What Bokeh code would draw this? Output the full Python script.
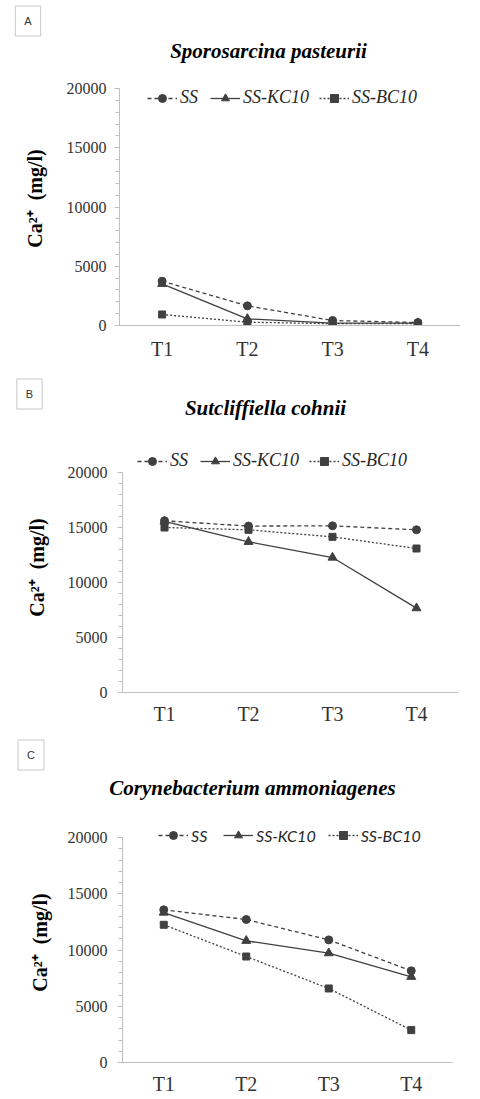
from bokeh.plotting import figure
from bokeh.models import Range1d, FixedTicker, Label, Legend, LegendItem
from bokeh.layouts import column
from bokeh.embed import file_html
from bokeh.resources import INLINE

# ---- data ----
times = ["T1", "T2", "T3", "T4"]
series_names = ["SS", "SS-KC10", "SS-BC10"]

a_ss = [3740, 1660, 420, 250]
a_kc = [3520, 560, 200, 200]
a_bc = [930, 280, 150, 150]

b_ss = [15610, 15130, 15150, 14790]
b_kc = [15550, 13700, 12270, 7670]
b_bc = [15000, 14790, 14150, 13090]

c_ss = [13570, 12710, 10900, 8150]
c_kc = [13330, 10820, 9720, 7620]
c_bc = [12240, 9420, 6580, 2880]

y_ticks = [0, 5000, 10000, 15000, 20000]
y_minor = list(range(0, 20001, 1000))
y_max = 20000

panel_letters = ["A", "B", "C"]
panel_titles = ["Sporosarcina pasteurii", "Sutcliffiella cohnii", "Corynebacterium ammoniagenes"]
y_label_text = "Ca²⁺\u00a0 (mg/l)"

INK = "#404040"
AXIS = "#bfbfbf"
SERIF = "Liberation Serif"
W = 480


def make_header(letter, title, h, box_xy, title_xy):
    p = figure(width=W, height=h, x_range=Range1d(0, W), y_range=Range1d(h, 0),
               x_axis_type=None, y_axis_type=None,
               min_border=0, min_border_left=0, min_border_right=0,
               min_border_top=0, min_border_bottom=0,
               output_backend="svg", toolbar_location=None, title=None)
    p.frame_align = False
    p.outline_line_color = None
    p.xgrid.visible = False
    p.ygrid.visible = False
    p.add_layout(Label(x=box_xy[0], y=box_xy[1], text=letter,
                       text_font="Liberation Sans", text_font_size="11px", text_color="#333333",
                       text_align="center", text_baseline="middle",
                       border_line_color="#c8c8c8", background_fill_color="white", padding=9))
    p.add_layout(Label(x=title_xy[0], y=title_xy[1], text=title,
                       text_font=SERIF, text_font_size="21px", text_font_style="bold italic",
                       text_color="black", text_align="center", text_baseline="middle"))
    return p


def make_plot(vals, geo, data_h, legend_geo, legend_font, legend_size,
              tick_standoff, x_standoff, label_standoff):
    bl, fw, br, fh, bb = geo
    p = figure(x_range=times, y_range=Range1d(0, y_max * fh / data_h),
               frame_width=fw, frame_height=fh,
               min_border_left=bl, min_border_right=br,
               min_border_top=0, min_border_bottom=bb,
               output_backend="svg", toolbar_location=None, title=None)
    p.frame_align = False
    p.x_range.range_padding = 0
    p.outline_line_color = None
    p.xgrid.visible = False
    p.ygrid.visible = False

    # y axis
    yax = p.yaxis[0]
    yax.bounds = (0, y_max)
    yax.ticker = FixedTicker(ticks=y_ticks, minor_ticks=y_minor)
    yax.axis_line_color = AXIS
    yax.major_tick_line_color = AXIS
    yax.minor_tick_line_color = AXIS
    yax.major_tick_out = 5
    yax.major_tick_in = 0
    yax.minor_tick_out = 4
    yax.minor_tick_in = 0
    yax.major_label_text_font = SERIF
    yax.major_label_text_font_size = "16px"
    yax.major_label_text_color = "#333333"
    yax.major_label_standoff = tick_standoff
    yax.axis_label = y_label_text
    yax.axis_label_text_font = SERIF
    yax.axis_label_text_font_size = "20px"
    yax.axis_label_text_font_style = "bold"
    yax.axis_label_text_color = "black"
    yax.axis_label_standoff = label_standoff

    # x axis
    xax = p.xaxis[0]
    xax.axis_line_color = AXIS
    xax.major_tick_line_color = None
    xax.minor_tick_line_color = None
    xax.major_tick_out = 0
    xax.major_tick_in = 0
    xax.minor_tick_out = 0
    xax.minor_tick_in = 0
    xax.major_label_text_font = SERIF
    xax.major_label_text_font_size = "20px"
    xax.major_label_text_color = "#333333"
    xax.major_label_standoff = x_standoff

    ss, kc, bc = vals
    styles = [
        (ss, "4 3", "circle", 8),
        (kc, "solid", "triangle", 9),
        (bc, "2 2", "square", 7),
    ]
    items = []
    for name, (ys, dash, marker, size) in zip(series_names, styles):
        r1 = p.line(times, ys, line_color=INK, line_width=1.3, line_dash=dash)
        r2 = p.scatter(times, ys, marker=marker, size=size, fill_color=INK, line_color=INK)
        items.append(LegendItem(label=name, renderers=[r1, r2]))

    vx, vy, spacing = legend_geo
    leg = Legend(items=items, orientation="horizontal", location=(vx, vy),
                 padding=0, margin=0, spacing=spacing, label_standoff=3,
                 glyph_width=30, glyph_height=20,
                 border_line_color=None, background_fill_alpha=0,
                 label_text_font=legend_font, label_text_font_size=f"{legend_size}px",
                 label_text_font_style="italic", label_text_color="#262626")
    p.add_layout(leg, "center")
    return p


# Panel A: header 0..71, plot frame 71..325 (data top at 88)
hA = make_header(panel_letters[0], panel_titles[0], 71, (27.5, 20.5), (268, 50))
pA = make_plot((a_ss, a_kc, a_bc), (119, 341, 20, 254, 40), 237,
               (28, 217, 10), SERIF, 18, 8, 12, 18)
# Panel B: header 365..442, plot frame 442..692 (data top at 472)
hB = make_header(panel_letters[1], panel_titles[1], 77, (29, 28.5), (265, 42))
pB = make_plot((b_ss, b_kc, b_bc), (122, 336, 22, 250, 38), 220,
               (15, 221, 10), SERIF, 18, 10, 10, 17)
# Panel C: header 730..822, plot frame 822..1062 (data top at 837)
hC = make_header(panel_letters[2], panel_titles[2], 92, (30.5, 24.5), (252, 57))
pC = make_plot((c_ss, c_kc, c_bc), (122, 330, 28, 240, 37), 225,
               (36, 217, 12), "Lato", 16, 10, 10, 14)

layout = column(hA, pA, hB, pB, hC, pC, spacing=0)
open("out.html", "w").write(file_html(layout, INLINE))
